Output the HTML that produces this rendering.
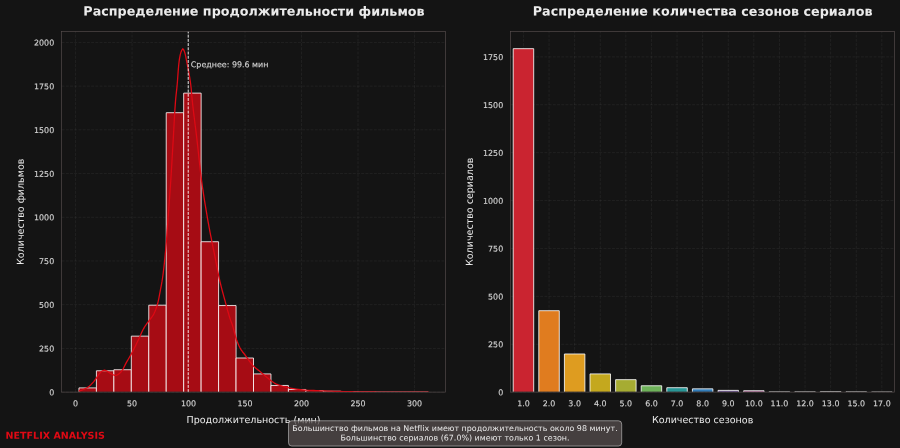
<!DOCTYPE html>
<html lang="ru"><head><meta charset="utf-8"><title>Netflix Analysis</title>
<style>html,body{margin:0;padding:0;background:#141414;}body{width:900px;height:448px;overflow:hidden;}</style>
</head><body>
<svg width="900" height="448" viewBox="0 0 900 448" style="display:block;font-family:'DejaVu Sans','Liberation Sans',sans-serif;font-variant-ligatures:none">
<rect width="900" height="448" fill="#141414"/>
<g stroke="#ffffff" stroke-opacity="0.07" stroke-width="0.8" stroke-dasharray="2.946 1.274" fill="none">
<line x1="75.56" y1="392.1" x2="75.56" y2="31.5"/>
<line x1="132.05" y1="392.1" x2="132.05" y2="31.5"/>
<line x1="188.54" y1="392.1" x2="188.54" y2="31.5"/>
<line x1="245.03" y1="392.1" x2="245.03" y2="31.5"/>
<line x1="301.51" y1="392.1" x2="301.51" y2="31.5"/>
<line x1="358.00" y1="392.1" x2="358.00" y2="31.5"/>
<line x1="414.49" y1="392.1" x2="414.49" y2="31.5"/>
<line x1="61.6" y1="392.10" x2="445.5" y2="392.10"/>
<line x1="61.6" y1="348.39" x2="445.5" y2="348.39"/>
<line x1="61.6" y1="304.68" x2="445.5" y2="304.68"/>
<line x1="61.6" y1="260.96" x2="445.5" y2="260.96"/>
<line x1="61.6" y1="217.25" x2="445.5" y2="217.25"/>
<line x1="61.6" y1="173.54" x2="445.5" y2="173.54"/>
<line x1="61.6" y1="129.82" x2="445.5" y2="129.82"/>
<line x1="61.6" y1="86.11" x2="445.5" y2="86.11"/>
<line x1="61.6" y1="42.40" x2="445.5" y2="42.40"/>
</g>
<g stroke="#ffffff" stroke-opacity="0.07" stroke-width="0.8" stroke-dasharray="2.946 1.274" fill="none">
<line x1="523.45" y1="392.1" x2="523.45" y2="31.5"/>
<line x1="549.05" y1="392.1" x2="549.05" y2="31.5"/>
<line x1="574.65" y1="392.1" x2="574.65" y2="31.5"/>
<line x1="600.25" y1="392.1" x2="600.25" y2="31.5"/>
<line x1="625.85" y1="392.1" x2="625.85" y2="31.5"/>
<line x1="651.45" y1="392.1" x2="651.45" y2="31.5"/>
<line x1="677.05" y1="392.1" x2="677.05" y2="31.5"/>
<line x1="702.65" y1="392.1" x2="702.65" y2="31.5"/>
<line x1="728.25" y1="392.1" x2="728.25" y2="31.5"/>
<line x1="753.85" y1="392.1" x2="753.85" y2="31.5"/>
<line x1="779.45" y1="392.1" x2="779.45" y2="31.5"/>
<line x1="805.05" y1="392.1" x2="805.05" y2="31.5"/>
<line x1="830.65" y1="392.1" x2="830.65" y2="31.5"/>
<line x1="856.25" y1="392.1" x2="856.25" y2="31.5"/>
<line x1="881.85" y1="392.1" x2="881.85" y2="31.5"/>
<line x1="510.65" y1="392.10" x2="894.6" y2="392.10"/>
<line x1="510.65" y1="344.22" x2="894.6" y2="344.22"/>
<line x1="510.65" y1="296.33" x2="894.6" y2="296.33"/>
<line x1="510.65" y1="248.45" x2="894.6" y2="248.45"/>
<line x1="510.65" y1="200.56" x2="894.6" y2="200.56"/>
<line x1="510.65" y1="152.68" x2="894.6" y2="152.68"/>
<line x1="510.65" y1="104.79" x2="894.6" y2="104.79"/>
<line x1="510.65" y1="56.91" x2="894.6" y2="56.91"/>
</g>
<defs><clipPath id="c1"><rect x="61.6" y="31.5" width="383.9" height="360.27"/></clipPath><clipPath id="c3"><rect x="61.6" y="31.5" width="383.9" height="360.50"/></clipPath><clipPath id="c2"><rect x="510.65" y="31.5" width="383.95000000000005" height="360.27"/></clipPath></defs>
<g clip-path="url(#c1)" fill="#a60c14" stroke="#ffffff" stroke-opacity="0.95" stroke-width="0.86">
<path d="M78.95,392.1V387.90H96.41V392.1"/>
<path d="M96.41,392.1V370.77H113.86V392.1"/>
<path d="M113.86,392.1V369.72H131.32V392.1"/>
<path d="M131.32,392.1V336.15H148.77V392.1"/>
<path d="M148.77,392.1V305.20H166.23V392.1"/>
<path d="M166.23,392.1V112.69H183.68V392.1"/>
<path d="M183.68,392.1V93.11H201.14V392.1"/>
<path d="M201.14,392.1V241.73H218.59V392.1"/>
<path d="M218.59,392.1V305.55H236.05V392.1"/>
<path d="M236.05,392.1V358.00H253.50V392.1"/>
<path d="M253.50,392.1V373.92H270.96V392.1"/>
<path d="M270.96,392.1V385.46H288.41V392.1"/>
<path d="M288.41,392.1V389.48H305.86V392.1"/>
<path d="M305.86,392.1V390.53H323.32V392.1"/>
<path d="M323.32,392.1V391.23H340.77V392.1"/>
<path d="M340.77,392.1V391.58H358.23V392.1"/>
<path d="M358.23,392.1V391.75H375.68V392.1"/>
<path d="M375.68,392.1V391.93H393.14V392.1"/>
<path d="M393.14,392.1V391.93H410.59V392.1"/>
<path d="M410.59,392.1V391.93H428.05V392.1"/>
</g>
<polyline clip-path="url(#c3)" fill="none" stroke="#dc0914" stroke-width="1.3" stroke-linejoin="round" stroke-linecap="round" points="79.10,390.90 81.34,390.29 83.48,389.49 85.50,388.54 87.42,387.49 89.24,386.20 90.94,384.67 92.50,383.07 93.94,381.35 95.29,379.54 96.63,377.72 97.93,375.83 99.20,373.90 100.62,372.25 102.47,370.85 104.54,370.10 106.50,370.76 108.47,372.12 110.47,373.33 112.55,374.49 114.62,375.38 116.64,375.28 118.68,374.10 120.49,372.51 121.88,370.94 123.05,369.08 124.09,367.02 125.10,364.91 126.16,362.87 127.29,360.92 128.43,358.98 129.56,357.04 130.68,355.08 131.75,353.11 132.80,351.12 133.83,349.12 134.83,347.11 135.83,345.09 136.81,343.07 137.79,341.05 138.77,339.02 139.70,336.96 140.61,334.90 141.52,332.83 142.48,330.80 143.50,328.81 144.62,326.88 145.86,325.01 147.18,323.18 148.52,321.36 149.87,319.55 151.30,317.78 152.66,315.98 153.77,314.08 154.72,312.07 155.57,309.98 156.35,307.84 157.05,305.68 157.67,303.53 158.20,301.34 158.68,299.14 159.12,296.94 159.54,294.73 159.94,292.51 160.34,290.30 160.77,288.09 161.20,285.88 161.62,283.67 162.02,281.46 162.36,279.24 162.68,277.02 162.99,274.79 163.28,272.56 163.55,270.33 163.82,268.09 164.07,265.86 164.32,263.62 164.56,261.38 164.79,259.15 165.01,256.91 165.23,254.67 165.44,252.43 165.64,250.19 165.84,247.95 166.03,245.71 166.22,243.47 166.40,241.23 166.58,238.99 166.75,236.75 166.92,234.50 167.08,232.26 167.24,230.02 167.40,227.77 167.56,225.53 167.72,223.29 167.87,221.04 168.04,218.80 168.20,216.56 168.36,214.32 168.53,212.07 168.69,209.83 168.85,207.59 169.02,205.34 169.18,203.10 169.34,200.86 169.50,198.62 169.66,196.37 169.82,194.13 169.98,191.89 170.14,189.64 170.30,187.40 170.45,185.16 170.61,182.91 170.76,180.67 170.90,178.43 171.05,176.18 171.19,173.94 171.33,171.69 171.46,169.45 171.60,167.20 171.73,164.96 171.87,162.71 172.00,160.47 172.13,158.22 172.26,155.98 172.39,153.73 172.52,151.49 172.65,149.25 172.79,147.00 172.92,144.76 173.05,142.51 173.18,140.27 173.32,138.02 173.45,135.78 173.57,133.53 173.69,131.28 173.82,129.04 173.94,126.79 174.06,124.55 174.18,122.30 174.30,120.05 174.43,117.81 174.55,115.56 174.69,113.32 174.82,111.07 174.97,108.83 175.12,106.59 175.27,104.34 175.44,102.10 175.61,99.86 175.81,97.62 176.04,95.39 176.28,93.15 176.53,90.91 176.78,88.68 177.01,86.44 177.21,84.20 177.40,81.96 177.57,79.71 177.73,77.46 177.89,75.21 178.05,72.96 178.22,70.72 178.40,68.47 178.60,66.24 178.82,64.00 179.07,61.78 179.36,59.56 179.72,57.32 180.17,55.09 180.74,52.91 181.49,50.74 182.70,48.77 183.91,50.27 184.75,52.53 185.33,54.68 185.80,56.91 186.23,59.14 186.67,61.35 187.12,63.55 187.56,65.76 187.99,67.96 188.42,70.18 188.83,72.39 189.22,74.61 189.59,76.83 189.95,79.05 190.28,81.27 190.59,83.50 190.87,85.73 191.11,87.96 191.33,90.19 191.53,92.44 191.72,94.68 191.91,96.92 192.12,99.16 192.35,101.40 192.58,103.63 192.83,105.87 193.09,108.10 193.35,110.33 193.62,112.57 193.89,114.80 194.16,117.03 194.44,119.26 194.72,121.49 195.00,123.73 195.28,125.96 195.56,128.19 195.84,130.42 196.12,132.65 196.39,134.88 196.66,137.12 196.92,139.35 197.18,141.58 197.43,143.82 197.68,146.05 197.93,148.29 198.17,150.53 198.41,152.76 198.64,155.00 198.88,157.24 199.12,159.47 199.36,161.71 199.60,163.95 199.85,166.18 200.10,168.42 200.35,170.65 200.61,172.88 200.88,175.11 201.16,177.35 201.44,179.57 201.74,181.80 202.04,184.03 202.35,186.26 202.67,188.48 203.00,190.71 203.33,192.93 203.67,195.15 204.02,197.38 204.37,199.60 204.73,201.82 205.09,204.04 205.46,206.26 205.83,208.48 206.20,210.70 206.58,212.91 206.96,215.13 207.34,217.35 207.72,219.56 208.11,221.77 208.51,223.99 208.91,226.20 209.33,228.41 209.75,230.62 210.17,232.83 210.60,235.03 211.03,237.24 211.47,239.45 211.91,241.65 212.36,243.86 212.80,246.06 213.25,248.27 213.69,250.47 214.14,252.68 214.58,254.88 215.02,257.09 215.46,259.29 215.89,261.50 216.32,263.71 216.74,265.92 217.17,268.13 217.59,270.33 218.03,272.54 218.47,274.75 218.93,276.95 219.41,279.14 219.91,281.33 220.43,283.52 220.97,285.70 221.53,287.88 222.10,290.05 222.68,292.23 223.27,294.40 223.86,296.57 224.46,298.74 225.05,300.91 225.63,303.08 226.21,305.26 226.79,307.43 227.38,309.61 227.99,311.77 228.61,313.94 229.25,316.09 229.92,318.23 230.63,320.36 231.44,322.46 232.25,324.56 232.91,326.70 233.49,328.88 234.04,331.06 234.62,333.23 235.19,335.41 235.79,337.58 236.50,339.71 237.30,341.81 238.18,343.89 239.09,345.94 240.08,347.98 241.18,349.92 242.48,351.74 243.91,353.49 245.30,355.27 246.58,357.12 247.87,358.96 249.18,360.80 250.51,362.64 251.88,364.42 253.37,366.07 255.02,367.56 256.80,368.97 258.57,370.37 260.30,371.81 262.03,373.25 263.76,374.68 265.48,376.14 267.19,377.60 268.93,379.02 270.71,380.41 272.51,381.80 274.37,383.07 276.32,384.09 278.40,384.95 280.55,385.68 282.70,386.33 284.88,386.91 287.07,387.43 289.27,387.89 291.48,388.31 293.70,388.69 295.92,389.02 298.15,389.31 300.38,389.58 302.62,389.82 304.86,390.04 307.10,390.21 309.34,390.33 311.59,390.43 313.84,390.52 316.09,390.61 318.33,390.69 320.58,390.78 322.83,390.86 325.07,390.96 327.32,391.05 329.57,391.13 331.81,391.21 334.06,391.29 336.31,391.36 338.56,391.43 340.81,391.49 343.05,391.55 345.30,391.61 347.55,391.66 349.80,391.71 352.05,391.76 354.29,391.81 356.54,391.85 358.79,391.89 361.04,391.91 363.29,391.93 365.54,391.96 367.78,391.97 370.03,391.99 372.28,392.01 374.53,392.02 376.78,392.03 379.03,392.05 381.28,392.06 383.53,392.07 385.77,392.08 388.02,392.09 390.27,392.10 392.52,392.11 394.77,392.11 397.02,392.12 399.27,392.12 401.52,392.12 403.76,392.12 406.01,392.12 408.26,392.12 410.51,392.12 412.76,392.12 415.01,392.12 417.26,392.12 419.51,392.12 421.75,392.12 424.00,392.12 426.25,392.12 428.50,392.12"/>
<line x1="188.22" y1="392.1" x2="188.22" y2="31.5" stroke="#ffffff" stroke-opacity="0.88" stroke-width="1.0" stroke-dasharray="2.946 1.274"/>
<g clip-path="url(#c2)">
<path d="M513.21,392.1V48.67H533.69V392.1" fill="#ca2430" stroke="#ffffff" stroke-opacity="0.95" stroke-width="0.86"/>
<path d="M538.81,392.1V310.70H559.29V392.1" fill="#e07c1f" stroke="#ffffff" stroke-opacity="0.95" stroke-width="0.86"/>
<path d="M564.41,392.1V353.98H584.89V392.1" fill="#de9c20" stroke="#ffffff" stroke-opacity="0.95" stroke-width="0.86"/>
<path d="M590.01,392.1V373.90H610.49V392.1" fill="#c4a81e" stroke="#ffffff" stroke-opacity="0.95" stroke-width="0.86"/>
<path d="M615.61,392.1V379.65H636.09V392.1" fill="#a6ac32" stroke="#ffffff" stroke-opacity="0.95" stroke-width="0.86"/>
<path d="M641.21,392.1V385.78H661.69V392.1" fill="#6eb25a" stroke="#ffffff" stroke-opacity="0.95" stroke-width="0.86"/>
<path d="M666.81,392.1V387.69H687.29V392.1" fill="#289696" stroke="#ffffff" stroke-opacity="0.95" stroke-width="0.86"/>
<path d="M692.41,392.1V388.84H712.89V392.1" fill="#327db9" stroke="#ffffff" stroke-opacity="0.95" stroke-width="0.86"/>
<path d="M718.01,392.1V390.38H738.49V392.1" fill="#8a6cb5" stroke="#ffffff" stroke-opacity="0.95" stroke-width="0.86"/>
<path d="M743.61,392.1V390.76H764.09V392.1" fill="#d480ba" stroke="#ffffff" stroke-opacity="0.95" stroke-width="0.86"/>
<path d="M769.21,392.1V391.72H789.69V392.1" fill="none" stroke="#ffffff" stroke-opacity="0.95" stroke-width="0.86"/>
<path d="M794.81,392.1V391.72H815.29V392.1" fill="none" stroke="#ffffff" stroke-opacity="0.95" stroke-width="0.86"/>
<path d="M820.41,392.1V391.53H840.89V392.1" fill="none" stroke="#ffffff" stroke-opacity="0.95" stroke-width="0.86"/>
<path d="M846.01,392.1V391.72H866.49V392.1" fill="none" stroke="#ffffff" stroke-opacity="0.95" stroke-width="0.86"/>
<path d="M871.61,392.1V391.91H892.09V392.1" fill="none" stroke="#ffffff" stroke-opacity="0.95" stroke-width="0.86"/>
</g>
<rect x="61.6" y="31.5" width="383.9" height="360.6" fill="none" stroke="#564d4d" stroke-width="0.66"/>
<rect x="510.65" y="31.5" width="383.95000000000005" height="360.6" fill="none" stroke="#564d4d" stroke-width="0.66"/>
<g fill="#d4d4d4" stroke="#d4d4d4" stroke-width="0.14" font-size="7.95px">
<text transform="translate(54.20,395.20) rotate(0.04)" text-anchor="end">0</text>
<text transform="translate(54.20,351.49) rotate(0.04)" text-anchor="end">250</text>
<text transform="translate(54.20,307.78) rotate(0.04)" text-anchor="end">500</text>
<text transform="translate(54.20,264.06) rotate(0.04)" text-anchor="end">750</text>
<text transform="translate(54.20,220.35) rotate(0.04)" text-anchor="end">1000</text>
<text transform="translate(54.20,176.64) rotate(0.04)" text-anchor="end">1250</text>
<text transform="translate(54.20,132.93) rotate(0.04)" text-anchor="end">1500</text>
<text transform="translate(54.20,89.21) rotate(0.04)" text-anchor="end">1750</text>
<text transform="translate(54.20,45.50) rotate(0.04)" text-anchor="end">2000</text>
<text transform="translate(503.20,395.20) rotate(0.04)" text-anchor="end">0</text>
<text transform="translate(503.20,347.32) rotate(0.04)" text-anchor="end">250</text>
<text transform="translate(503.20,299.43) rotate(0.04)" text-anchor="end">500</text>
<text transform="translate(503.20,251.55) rotate(0.04)" text-anchor="end">750</text>
<text transform="translate(503.20,203.66) rotate(0.04)" text-anchor="end">1000</text>
<text transform="translate(503.20,155.78) rotate(0.04)" text-anchor="end">1250</text>
<text transform="translate(503.20,107.89) rotate(0.04)" text-anchor="end">1500</text>
<text transform="translate(503.20,60.01) rotate(0.04)" text-anchor="end">1750</text>
<text transform="translate(75.56,406.30) rotate(0.04)" text-anchor="middle">0</text>
<text transform="translate(132.05,406.30) rotate(0.04)" text-anchor="middle">50</text>
<text transform="translate(188.54,406.30) rotate(0.04)" text-anchor="middle">100</text>
<text transform="translate(245.03,406.30) rotate(0.04)" text-anchor="middle">150</text>
<text transform="translate(301.51,406.30) rotate(0.04)" text-anchor="middle">200</text>
<text transform="translate(358.00,406.30) rotate(0.04)" text-anchor="middle">250</text>
<text transform="translate(414.49,406.30) rotate(0.04)" text-anchor="middle">300</text>
<text transform="translate(523.45,406.30) rotate(0.04)" text-anchor="middle">1.0</text>
<text transform="translate(549.05,406.30) rotate(0.04)" text-anchor="middle">2.0</text>
<text transform="translate(574.65,406.30) rotate(0.04)" text-anchor="middle">3.0</text>
<text transform="translate(600.25,406.30) rotate(0.04)" text-anchor="middle">4.0</text>
<text transform="translate(625.85,406.30) rotate(0.04)" text-anchor="middle">5.0</text>
<text transform="translate(651.45,406.30) rotate(0.04)" text-anchor="middle">6.0</text>
<text transform="translate(677.05,406.30) rotate(0.04)" text-anchor="middle">7.0</text>
<text transform="translate(702.65,406.30) rotate(0.04)" text-anchor="middle">8.0</text>
<text transform="translate(728.25,406.30) rotate(0.04)" text-anchor="middle">9.0</text>
<text transform="translate(753.85,406.30) rotate(0.04)" text-anchor="middle">10.0</text>
<text transform="translate(779.45,406.30) rotate(0.04)" text-anchor="middle">11.0</text>
<text transform="translate(805.05,406.30) rotate(0.04)" text-anchor="middle">12.0</text>
<text transform="translate(830.65,406.30) rotate(0.04)" text-anchor="middle">13.0</text>
<text transform="translate(856.25,406.30) rotate(0.04)" text-anchor="middle">15.0</text>
<text transform="translate(881.85,406.30) rotate(0.04)" text-anchor="middle">17.0</text>
<text transform="translate(190.82,67.25) rotate(0.04)" font-size="7.95px">Среднее: 99.6 мин</text>
</g>
<g fill="#ebebeb" font-size="9.54px" text-anchor="middle">
<text transform="translate(253.55,423.10) rotate(0.04)">Продолжительность (мин)</text>
<text transform="translate(702.62,423.10) rotate(0.04)">Количество сезонов</text>
<text transform="translate(23.8,211.80) rotate(-89.96)">Количество фильмов</text>
<text transform="translate(472.85,211.80) rotate(-89.96)">Количество сериалов</text>
</g>
<g fill="#ebebeb" font-size="12.72px" font-weight="bold" text-anchor="middle">
<text transform="translate(253.95,15.60) rotate(0.04)">Распределение продолжительности фильмов</text>
<text transform="translate(702.62,15.60) rotate(0.04)">Распределение количества сезонов сериалов</text>
</g>
<text transform="translate(5.60,438.70) rotate(0.04)" fill="#e00914" font-size="9.54px" font-weight="bold">NETFLIX ANALYSIS</text>
<rect x="288.5" y="420.75" width="333.2" height="25.3" rx="3.3" ry="3.3" fill="#564d4d" fill-opacity="0.75" stroke="#ffffff" stroke-opacity="0.55" stroke-width="0.8"/>
<g fill="#ebebeb" font-size="7.95px" text-anchor="middle">
<text transform="translate(455.00,431.00) rotate(0.04)">Большинство фильмов на Netflix имеют продолжительность около 98 минут.</text>
<text transform="translate(455.00,440.50) rotate(0.04)">Большинство сериалов (67.0%) имеют только 1 сезон.</text>
</g>
</svg>
</body></html>
